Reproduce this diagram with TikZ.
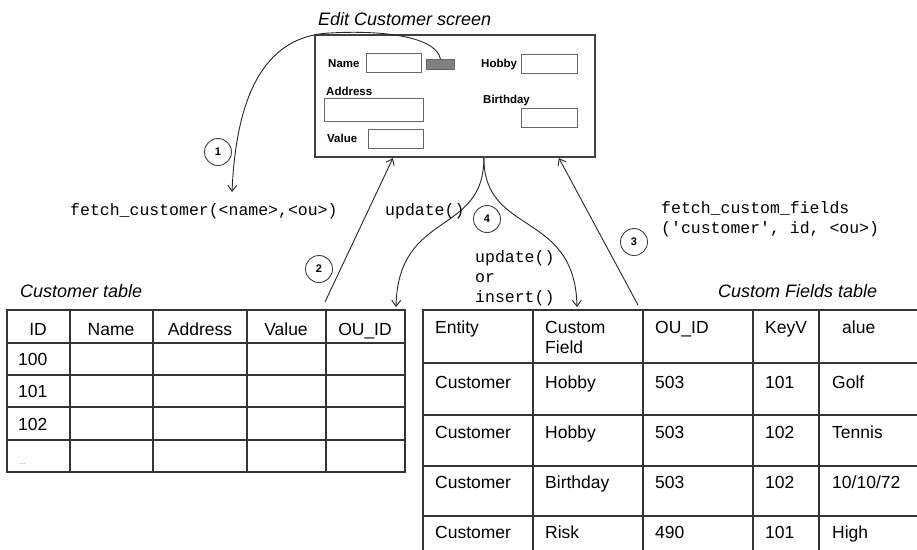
\documentclass[tikz,border=0pt]{standalone}
\usepackage{fontspec}
\setmainfont{Liberation Sans}
\setmonofont{Liberation Mono}
\usetikzlibrary{positioning, arrows.meta}

\begin{document}
\begin{tikzpicture}[x=1pt, y=-1pt, >={Straight Barb[length=6pt, width=9pt]},
    screenbox/.style={draw=black!75, line width=2.2pt, minimum width=280pt, minimum height=122pt, inner sep=0pt},
    fieldbox/.style={draw=black!60, line width=0.9pt, anchor=north west, inner sep=0pt},
    fieldlabel/.style={anchor=base west, inner sep=0pt, font=\fontsize{11.5}{13}\selectfont\bfseries},
    stepnum/.style={circle, draw=black!75, line width=0.9pt, minimum size=27pt, inner sep=0pt, font=\fontsize{11}{12}\selectfont\bfseries},
    calltext/.style={anchor=base west, inner sep=0pt, font=\fontsize{16.5}{20}\selectfont\ttfamily},
    tabletitle/.style={anchor=base west, inner sep=0pt, font=\fontsize{18}{20}\selectfont\itshape},
    celltext/.style={anchor=base west, inner sep=0pt, font=\fontsize{17.5}{20}\selectfont},
    headtext/.style={anchor=base, inner sep=0pt, font=\fontsize{17.5}{20}\selectfont},
    gridline/.style={draw=black!80, line width=1.5pt, line cap=rect},
    flow/.style={->, draw=black!85, line width=0.9pt}
    ]
    \useasboundingbox (0,0) rectangle (917,549);

    \node[screenbox]  (screen)      at (455,96)  {};
    \node[tabletitle] (screentitle) at (318,25)  {Edit Customer screen};

    \node[fieldlabel] (lname)     at (328,67)  {Name};
    \node[fieldbox, minimum width=55pt, minimum height=19pt] (fname) at (366,53) {};
    \node[fieldbox, fill=black!50, minimum width=28pt, minimum height=10pt] (btn) at (426,59) {};
    \node[fieldlabel] (lhobby)    at (481,67)  {Hobby};
    \node[fieldbox, minimum width=56pt, minimum height=19pt] (fhobby) at (521,54) {};
    \node[fieldlabel] (laddress)  at (326,95)  {Address};
    \node[fieldbox, minimum width=99pt, minimum height=23pt] (faddress) at (324,98) {};
    \node[fieldlabel] (lbirthday) at (483,103) {Birthday};
    \node[fieldbox, minimum width=56pt, minimum height=19pt] (fbirthday) at (521,108) {};
    \node[fieldlabel] (lvalue)    at (327,142) {Value};
    \node[fieldbox, minimum width=55pt, minimum height=19pt] (fvalue) at (368,129) {};

    \node[calltext] (fetchcust) at (70,215)  {fetch\_customer(<name>,<ou>)};
    \node[calltext] (upd2)      at (385,215) {update()};
    \node[calltext] (fetchcf)   at (661,213) {fetch\_custom\_fields};
    \node[calltext] (fetchargs) at (661,233) {('customer', id, <ou>)};
    \node[calltext] (upd4)      at (475,262) {update()};
    \node[calltext] (or4)       at (475,282) {or};
    \node[calltext] (ins4)      at (475,302) {insert()};

    \node[stepnum] (n1) at (218,152) {1};
    \node[stepnum] (n2) at (319,269) {2};
    \node[stepnum] (n3) at (634,242) {3};
    \node[stepnum] (n4) at (487,219) {4};

    \node[tabletitle] (ctitle)  at (20,297)  {Customer table};
    \node[tabletitle] (cftitle) at (718,297) {Custom Fields table};

    \foreach \x in {7,70,153,247,326,405} \draw[gridline] (\x,310) -- (\x,472);
    \foreach \y in {310,343,375,407,440,472} \draw[gridline] (7,\y) -- (405,\y);
    \foreach \t/\x [count=\i] in {ID/38, Name/111, Address/200, Value/286, OU\_ID/365}
        \node[headtext] (chead-\i) at (\x,335) {\t};
    \foreach \t/\y [count=\i] in {100/365, 101/397, 102/430}
        \node[celltext] (cid-\i) at (18,\y) {\t};
    \node[celltext, font=\fontsize{8}{10}\selectfont, text=black!45] (cid-4) at (19,464) {...};

    \foreach \x in {423,533,643,753,819} \draw[gridline] (\x,310) -- (\x,549);
    \foreach \y in {310,363,415,466,516} \draw[gridline] (423,\y) -- (917,\y);
    \foreach \t/\x [count=\i] in {Entity/435, Custom/545, OU\_ID/655, KeyV/765, alue/842}
        \node[celltext] (cfhead-\i) at (\x,333) {\t};
    \node[celltext] (cfhead-6) at (545,353) {Field};
    \foreach \a/\b/\c/\d/\e/\y [count=\i] in {Customer/Hobby/503/101/Golf/388,
        Customer/Hobby/503/102/Tennis/438, Customer/Birthday/503/102/{10/10/72}/488,
        Customer/Risk/490/101/High/538} {
        \node[celltext] (cfa-\i) at (435,\y) {\a};
        \node[celltext] (cfb-\i) at (545,\y) {\b};
        \node[celltext] (cfc-\i) at (655,\y) {\c};
        \node[celltext] (cfd-\i) at (765,\y) {\d};
        \node[celltext] (cfe-\i) at (832,\y) {\e};
    }

    \coordinate (tip1)  at (232,192);
    \coordinate (foot2) at (325,302);
    \coordinate (foot3) at (638,305);
    \coordinate (tip4l) at (396,307);
    \coordinate (tip4r) at (577,307);

    \draw[flow] (btn.north) .. controls (436,36) and (380,30) .. (330,33)
        .. controls (262,36) and (236,100) .. (tip1);
    \draw[flow] (foot2) -- ([xshift=79pt]screen.south west);
    \draw[flow] (foot3) -- ([xshift=245pt]screen.south west);
    \draw[flow] ([xshift=170pt]screen.south west) .. controls +(0,78) and (398,210) .. (tip4l);
    \draw[flow] ([xshift=170pt]screen.south west) .. controls +(0,78) and (575,210) .. (tip4r);
\end{tikzpicture}
\end{document}
